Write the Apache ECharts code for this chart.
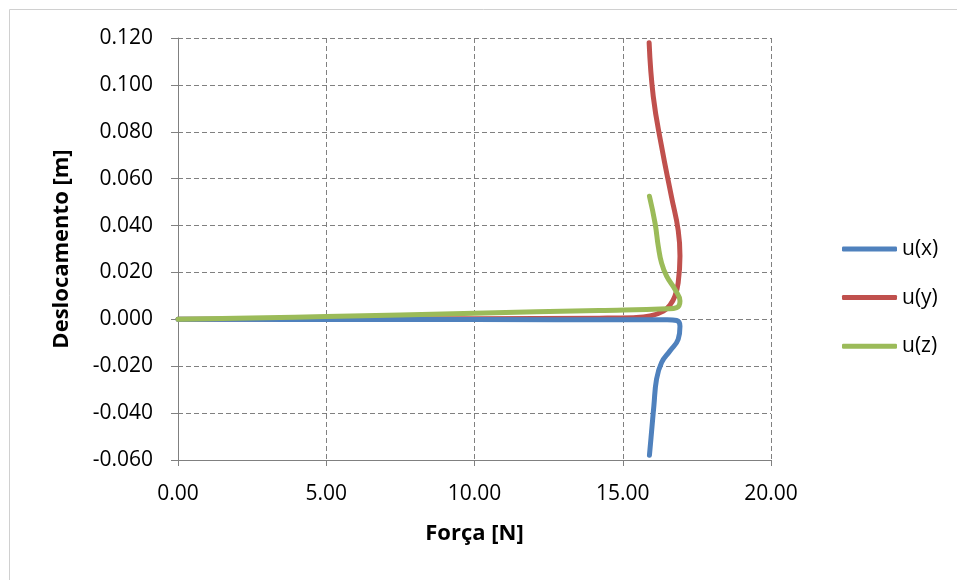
<!DOCTYPE html>
<html>
<head>
<meta charset="utf-8">
<script src="https://cdn.jsdelivr.net/npm/echarts@6/dist/echarts.min.js"></script>
<style>
html,body{margin:0;padding:0;background:#fff;}
#c{width:957px;height:580px;}
</style>
</head>
<body>
<div id="c"></div>
<script>
// Força [N] and Deslocamento [m] pairs
const uxForce = [0, 5, 10, 15.5, 16.5, 16.82, 16.93, 16.87, 16.59, 16.31, 16.14, 16.05, 15.97, 15.9];
const uxDisp  = [0, -0.0001, -0.0001, -0.0002, -0.0002, -0.0005, -0.003, -0.0085, -0.0135, -0.0184, -0.0255, -0.0369, -0.0482, -0.058];

const uyForce = [0, 5, 10, 14.2, 15.36, 15.92, 16.37, 16.6, 16.76, 16.87, 16.93, 16.87, 16.64, 16.31, 16.03, 15.89];
const uyDisp  = [0, 0.0002, 0.0003, 0.0005, 0.0007, 0.0014, 0.0035, 0.0062, 0.0099, 0.0156, 0.027, 0.038, 0.0525, 0.0737, 0.095, 0.118];

const uzForce = [0, 5, 10, 14.2, 16.5, 16.82, 16.93, 16.76, 16.48, 16.31, 16.2, 16.09, 15.9];
const uzDisp  = [0, 0.0012, 0.0026, 0.0038, 0.0045, 0.005, 0.0078, 0.0128, 0.0184, 0.024, 0.031, 0.041, 0.0525];

const seriesNames = ['u(x)', 'u(y)', 'u(z)'];
const seriesColors = ['#4F81BD', '#C0504D', '#9BBB59'];

const yMin = -0.06, yMax = 0.12, yStep = 0.02;
const xMin = 0, xMax = 20, xStep = 5;

function pairs(xs, ys){ return xs.map((x,i)=>[x, ys[i]]); }
const allData = [pairs(uxForce, uxDisp), pairs(uyForce, uyDisp), pairs(uzForce, uzDisp)];

const FONT = "'Open Sans', 'Noto Sans', sans-serif";
const chart = echarts.init(document.getElementById('c'), null, {renderer:'canvas'});
const gridLine = {show:true, lineStyle:{color:'#808080', type:[5,3], width:1}};
chart.setOption({
  animation:false,
  backgroundColor:'#fff',
  graphic:[{type:'rect', shape:{x:9.5,y:9.5,width:960,height:600}, style:{fill:'none', stroke:'#d0d0d0', lineWidth:1}, silent:true}],
  grid:{left:178, right:186, top:38, bottom:120, containLabel:false},
  legend:{
    orient:'vertical', left:842, top:238, padding:0,
    itemWidth:55, itemHeight:5, itemGap:26.6, itemTextGap:3,
    icon:'roundRect',
    data:seriesNames,
    textStyle:{fontFamily:FONT, fontSize:21, color:'#000', lineHeight:22}
  },
  xAxis:{
    type:'value', min:xMin, max:xMax, interval:xStep,
    name:'Força [N]', nameLocation:'middle', nameGap:63,
    nameTextStyle:{fontFamily:FONT, fontSize:22, fontWeight:'bold', color:'#000'},
    axisLine:{show:true, onZero:false, lineStyle:{color:'#808080', width:1}},
    axisTick:{show:true, length:6, inside:false, lineStyle:{color:'#808080'}},
    axisLabel:{fontFamily:FONT, fontSize:21, color:'#000', margin:24, formatter:v=>v.toFixed(2)},
    splitLine:gridLine
  },
  yAxis:{
    type:'value', min:yMin, max:yMax, interval:yStep,
    name:'Deslocamento [m]', nameLocation:'middle', nameGap:105,
    nameTextStyle:{fontFamily:FONT, fontSize:22, fontWeight:'bold', color:'#000'},
    axisLine:{show:true, onZero:false, lineStyle:{color:'#808080', width:1}},
    axisTick:{show:true, length:7, inside:false, lineStyle:{color:'#808080'}},
    axisLabel:{fontFamily:FONT, fontSize:21, color:'#000', margin:25, formatter:v=>v.toFixed(3)},
    splitLine:gridLine
  },
  series: seriesNames.map((n,i)=>({
    name:n, type:'line', data:allData[i], smooth:0.45, showSymbol:false, symbol:'none',
    lineStyle:{color:seriesColors[i], width:5, cap:'round', join:'round'},
    itemStyle:{color:seriesColors[i]}, z: 2 + (i===2?2:(i===0?1:0))
  }))
});
</script>
</body>
</html>
